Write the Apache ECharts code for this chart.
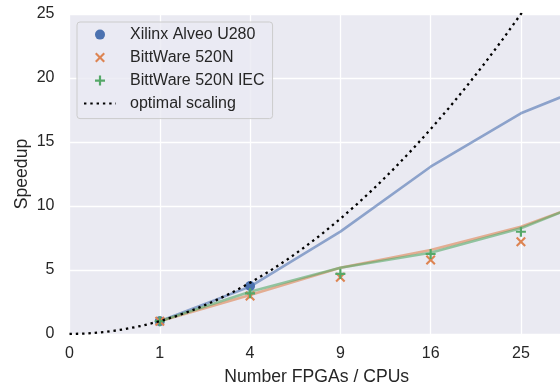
<!DOCTYPE html>
<html>
<head>
<meta charset="utf-8">
<script src="https://cdn.jsdelivr.net/npm/echarts@6/dist/echarts.min.js"></script>
<style>
  html, body { margin: 0; padding: 0; background: #ffffff; }
  #chart { width: 560px; height: 385px; }
</style>
</head>
<body>
<div id="chart"></div>
<script>
// Measured speedups per number of FPGAs / CPUs
const xilinxCounts = [1, 4];
const xilinxSpeedup = [1.0, 3.75];
const bittwareCounts = [1, 4, 9, 16, 25];
const bittwareSpeedup = [1.0, 2.97, 4.43, 5.78, 7.21];
const bittwareIecSpeedup = [1.0, 3.18, 4.69, 6.25, 7.99];

// Modelled speedups
const modelCounts = [1, 4, 9, 16, 25, 36];
const xilinxModel = [1.0, 3.7, 8.0, 13.07, 17.24, 20.1];
const bittwareModel = [1.0, 3.05, 5.18, 6.56, 8.38, 10.97];
const bittwareIecModel = [1.0, 3.3, 5.18, 6.35, 8.26, 11.1];

// Optimal scaling: speedup equals the device count
const optimalCounts = [0, 0.04, 0.16, 0.36, 0.64, 1, 1.44, 1.96, 2.56, 3.24, 4, 4.84, 5.76,
  6.76, 7.84, 9, 10.24, 11.56, 12.96, 14.44, 16, 17.64, 19.36, 21.16, 23.04, 25, 27.04,
  29.16, 31.36];

const xTickLabels = ['0', '1', '4', '9', '16', '25'];
const yTickLabels = ['0', '5', '10', '15', '20', '25'];

const seriesNames = ['Xilinx Alveo U280', 'BittWare 520N', 'BittWare 520N IEC', 'optimal scaling'];

// Square-root axis: positions are sqrt(count)
const sx = n => Math.sqrt(n);
const pairs = (xs, ys) => xs.map((n, i) => [sx(n), ys[i]]);

const FONT = "'Liberation Sans', Arial, sans-serif";
const TEXT = '#262626';
const BLUE = '#4c72b0', ORANGE = '#dd8452', GREEN = '#55a868';

const CROSS = 'path://M0,1.5 L1.5,0 L5,3.5 L8.5,0 L10,1.5 L6.5,5 L10,8.5 L8.5,10 L5,6.5 L1.5,10 L0,8.5 L3.5,5 Z';
const PLUS = 'path://M3.9,0 L6.1,0 L6.1,3.9 L10,3.9 L10,6.1 L6.1,6.1 L6.1,10 L3.9,10 L3.9,6.1 L0,6.1 L0,3.9 L3.9,3.9 Z';

const chart = echarts.init(document.getElementById('chart'), null, { renderer: 'canvas' });

const modelLine = (name, xs, ys, color) => ({
  name, type: 'line', data: pairs(xs, ys), showSymbol: false, symbol: 'none',
  lineStyle: { color, width: 2.6, opacity: 0.6 }, z: 2, silent: true
});

chart.setOption({
  animation: false,
  textStyle: { fontFamily: FONT },
  grid: {
    left: 69.5, right: -4, top: 14, bottom: 51,
    show: true, backgroundColor: '#eaeaf2', borderWidth: 0,
    outerBoundsMode: 'none'
  },
  legend: {
    data: [
      { name: seriesNames[0], icon: 'circle' },
      { name: seriesNames[1], icon: CROSS },
      { name: seriesNames[2], icon: PLUS },
      { name: seriesNames[3], itemStyle: { opacity: 0 } }
    ],
    orient: 'vertical', left: 77, top: 22,
    itemWidth: 32, itemHeight: 10, itemGap: 7,
    padding: [4.6, 8, 7, 6],
    symbolKeepAspect: true,
    backgroundColor: 'rgba(234,234,242,0.8)',
    borderColor: '#cccccc', borderWidth: 1, borderRadius: 3,
    textStyle: { fontSize: 16, color: TEXT, fontFamily: FONT, lineHeight: 16, padding: [0, 0, 0, 9] }
  },
  xAxis: {
    type: 'value', min: 0, max: sx(30), interval: 1,
    name: 'Number FPGAs / CPUs', nameLocation: 'middle', nameGap: 34.5, nameMoveOverlap: false,
    nameTextStyle: { fontSize: 17.6, color: TEXT, fontFamily: FONT },
    axisLine: { show: false }, axisTick: { show: false },
    axisLabel: {
      fontSize: 16, color: TEXT, fontFamily: FONT, margin: 12, showMaxLabel: false,
      formatter: v => xTickLabels[Math.round(v)] ?? ''
    },
    splitLine: { show: true, lineStyle: { color: '#ffffff', width: 1.3 } }
  },
  yAxis: {
    type: 'value', min: 0, max: 25, interval: 5,
    name: 'Speedup', nameLocation: 'middle', nameGap: 38, nameMoveOverlap: false,
    nameTextStyle: { fontSize: 17.6, color: TEXT, fontFamily: FONT },
    axisLine: { show: false }, axisTick: { show: false },
    axisLabel: {
      fontSize: 16, color: TEXT, fontFamily: FONT, margin: 15,
      formatter: v => yTickLabels[Math.round(v / 5)] ?? ''
    },
    splitLine: { show: true, lineStyle: { color: '#ffffff', width: 1.3 } }
  },
  series: [
    modelLine('Xilinx Alveo U280 model', modelCounts, xilinxModel, BLUE),
    modelLine('BittWare 520N model', modelCounts, bittwareModel, ORANGE),
    modelLine('BittWare 520N IEC model', modelCounts, bittwareIecModel, GREEN),
    {
      name: seriesNames[0], type: 'scatter', data: pairs(xilinxCounts, xilinxSpeedup),
      symbol: 'circle', symbolSize: 10, itemStyle: { color: BLUE, opacity: 1 }, z: 3
    },
    {
      name: seriesNames[1], type: 'scatter', data: pairs(bittwareCounts, bittwareSpeedup),
      symbol: CROSS, symbolSize: 10, itemStyle: { color: ORANGE, opacity: 1 }, z: 4
    },
    {
      name: seriesNames[2], type: 'scatter', data: pairs(bittwareCounts, bittwareIecSpeedup),
      symbol: PLUS, symbolSize: 10, itemStyle: { color: GREEN, opacity: 1 }, z: 5
    },
    {
      name: seriesNames[3], type: 'line', data: pairs(optimalCounts, optimalCounts),
      showSymbol: false, symbol: 'none', smooth: false,
      lineStyle: { color: '#000000', width: 2.3, type: [2.4, 3.9], cap: 'butt' },
      itemStyle: { color: '#000000' }, z: 6
    }
  ]
});
</script>
</body>
</html>
